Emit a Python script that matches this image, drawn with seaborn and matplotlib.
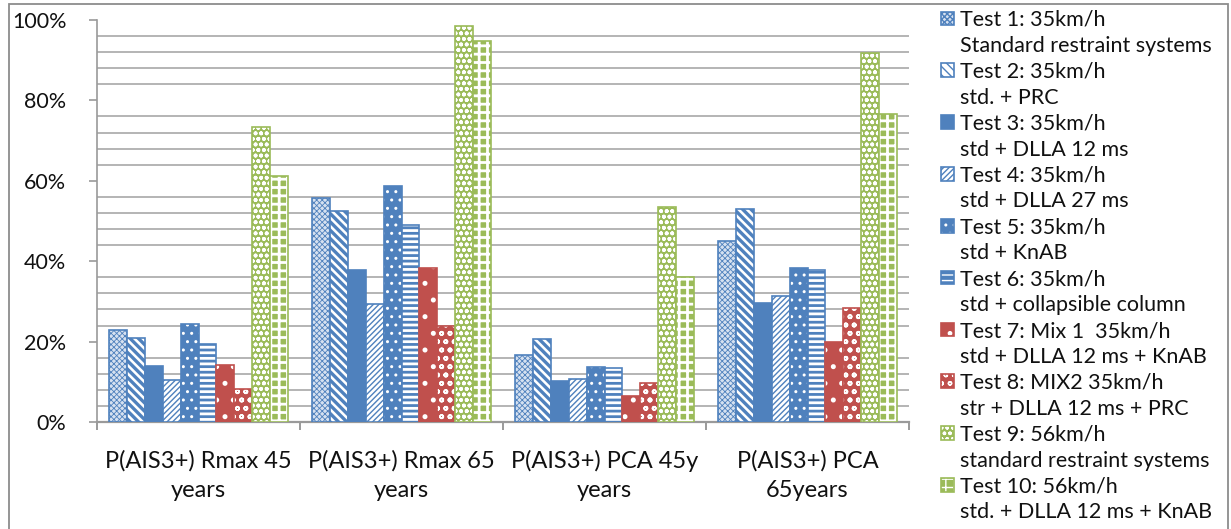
import numpy as np
import pandas as pd
import matplotlib
matplotlib.use("Agg")
import matplotlib.pyplot as plt
from matplotlib.patches import Rectangle
from matplotlib.colors import to_rgba
from matplotlib.ticker import FuncFormatter
import seaborn as sns

# ---- data -----------------------------------------------------------------
categories = [
    "P(AIS3+) Rmax 45\nyears",
    "P(AIS3+) Rmax 65\nyears",
    "P(AIS3+) PCA 45y\nyears",
    "P(AIS3+) PCA\n65years",
]

test_names = [
    "Test 1: 35km/h",
    "Test 2: 35km/h",
    "Test 3: 35km/h",
    "Test 4: 35km/h",
    "Test 5: 35km/h",
    "Test 6: 35km/h",
    "Test 7: Mix 1  35km/h",
    "Test 8: MIX2 35km/h",
    "Test 9: 56km/h",
    "Test 10: 56km/h",
]

test_descriptions = [
    "Standard restraint systems",
    "std. + PRC",
    "std + DLLA 12 ms",
    "std + DLLA 27 ms",
    "std + KnAB",
    "std + collapsible column",
    "std + DLLA 12 ms + KnAB",
    "str + DLLA 12 ms + PRC",
    "standard restraint systems",
    "std. + DLLA 12 ms + KnAB",
]

# injury probabilities in percent, one value per category
test1 = [22.8, 55.7, 16.7, 45.0]
test2 = [21.0, 52.4, 20.7, 53.1]
test3 = [13.9, 37.7, 10.1, 29.7]
test4 = [10.4, 29.3, 10.8, 31.3]
test5 = [24.5, 58.6, 13.7, 38.3]
test6 = [19.4, 49.1, 13.4, 37.8]
test7 = [14.3, 38.2, 6.5, 19.8]
test8 = [8.3, 23.8, 9.6, 28.4]
test9 = [73.4, 98.4, 53.5, 91.9]
test10 = [61.1, 94.8, 36.1, 76.7]

series = [test1, test2, test3, test4, test5, test6, test7, test8, test9, test10]

y_ticks = [0, 20, 40, 60, 80, 100]

# ---- styling ----------------------------------------------------------------
BLUE = "#4F81BD"
RED = "#C0504D"
GREEN = "#9BBB59"
WHITE = "#FFFFFF"

# (face colour, edge colour, hatch, hatch colour, hatch linewidth)
bar_styles = [
    ("#D6E1F0", BLUE, "xxxxxx", BLUE, 0.6),
    (WHITE, BLUE, "\\\\\\\\", BLUE, 2.4),
    (BLUE, BLUE, "", BLUE, 1.0),
    (WHITE, BLUE, "//////", BLUE, 1.0),
    (BLUE, BLUE, "..", WHITE, 1.0),
    (BLUE, BLUE, "---", WHITE, 2.0),
    (RED, RED, ".", WHITE, 1.2),
    (RED, RED, "oo", WHITE, 1.2),
    (GREEN, GREEN, "ooo", WHITE, 1.2),
    (GREEN, GREEN, "++", WHITE, 2.0),
]


def style_patch(p, st):
    face, edge, hatch, hcol, hlw = st
    p.set_facecolor(face)
    p.set_edgecolor(edge)
    p.set_linewidth(1.2)
    p.set_hatch(hatch if hatch else None)
    if hasattr(p, "set_hatchcolor"):
        p.set_hatchcolor(hcol)
    else:
        p._hatch_color = to_rgba(hcol)
    if hasattr(p, "set_hatch_linewidth"):
        p.set_hatch_linewidth(hlw)
    else:
        p._hatch_linewidth = hlw


sns.set_style("white")
plt.rcParams["font.family"] = ["Lato", "DejaVu Sans"]
plt.rcParams["hatch.linewidth"] = 1.0

W, H = 1231, 529
fig = plt.figure(figsize=(W / 100, H / 100), dpi=100)
ax = fig.add_axes([97 / W, 1 - 422 / H, (909 - 97) / W, (422 - 20) / H])

df = pd.DataFrame(
    [(c, t, v) for t, vals in zip(test_names, series) for c, v in zip(categories, vals)],
    columns=["category", "test", "value"],
)

sns.barplot(
    data=df, x="category", y="value", hue="test",
    order=categories, hue_order=test_names,
    palette=[s[0] for s in bar_styles], saturation=1,
    width=0.88, dodge=True, legend=False, ax=ax, zorder=3,
)

for cont, st in zip(ax.containers, bar_styles):
    for p in cont:
        style_patch(p, st)

# ---- axes -------------------------------------------------------------------
GRID = "#B4B4B4"
AXIS = "#9A9A9A"
ax.set_xlim(-0.5, len(categories) - 0.5)
ax.set_ylim(0, 100)
ax.set_yticks(y_ticks)
ax.yaxis.set_major_formatter(FuncFormatter(lambda v, _: f"{v:.0f}%"))
minor_grid = [v for v in range(4, 100, 4) if v % 20 != 0]
ax.set_yticks(minor_grid, minor=True)
ax.grid(False)
ax.yaxis.grid(True, which="minor", color=GRID, linewidth=1.4)
ax.set_axisbelow(True)

ax.set_xticks(range(len(categories)))
ax.set_xticklabels(categories, linespacing=1.5)
ax.set_xticks(np.arange(-0.5, len(categories), 1.0), minor=True)

ax.tick_params(axis="x", which="major", length=0, pad=20, labelsize=17, labelcolor="#111111")
ax.tick_params(axis="x", which="minor", length=6, width=1.4, color=AXIS, direction="out", bottom=True)
ax.tick_params(axis="y", which="major", length=6, width=1.2, color=AXIS, direction="out",
               pad=16, labelsize=15.5, labelcolor="#111111", left=True)
ax.tick_params(axis="y", which="minor", length=0)

ax.set_xlabel("")
ax.set_ylabel("")
for side in ["top", "right"]:
    ax.spines[side].set_visible(False)
ax.spines["left"].set_color(AXIS)
ax.spines["left"].set_linewidth(1.2)
ax.spines["bottom"].set_color(AXIS)
ax.spines["bottom"].set_linewidth(1.6)

# ---- legend: test name with swatch, description on its own line -------------
handles, labels = [], []
for name, desc, st in zip(test_names, test_descriptions, bar_styles):
    h = Rectangle((0, 0), 1, 1)
    style_patch(h, st)
    handles.append(h)
    labels.append(name)
    handles.append(Rectangle((0, 0), 1, 1, facecolor="none", edgecolor="none"))
    labels.append(desc)

fig.legend(
    handles, labels, loc="upper left", bbox_to_anchor=(941 / W, 1 - 10 / H),
    frameon=False, fontsize=15.5, handlelength=0.6, handleheight=0.6,
    handletextpad=0.3, labelspacing=0.275, borderpad=0, borderaxespad=0,
    labelcolor="#111111",
)

# outer chart frame
fig.add_artist(Rectangle((9 / W, -0.02), (1228 - 9) / W, 1.02 - 4 / H,
                         transform=fig.transFigure, fill=False,
                         edgecolor="#8C8C8C", linewidth=1.3))

fig.savefig("out.png", dpi=100)
